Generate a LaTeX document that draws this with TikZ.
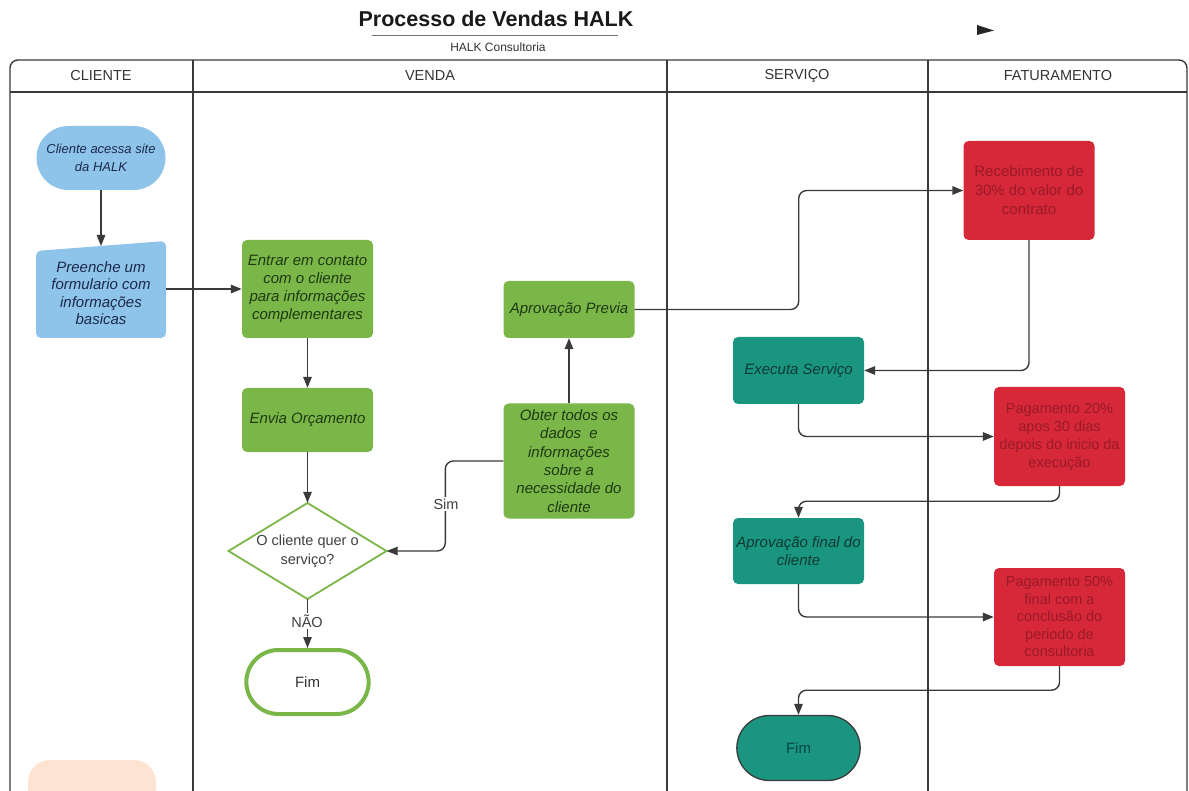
\documentclass[tikz,border=0pt]{standalone}
\usepackage{fontspec}
\setmainfont{Liberation Sans}
\usetikzlibrary{arrows.meta,shapes.geometric,shapes.misc}
\definecolor{blueF}{HTML}{8EC3EA}
\definecolor{blueT}{HTML}{1C2A4A}
\definecolor{greenF}{HTML}{7AB648}
\definecolor{greenT}{HTML}{1E3A12}
\definecolor{tealF}{HTML}{1A957F}
\definecolor{tealT}{HTML}{0E3A33}
\definecolor{redF}{HTML}{D62839}
\definecolor{redT}{HTML}{9A1A28}
\definecolor{peach}{HTML}{FDE4D2}
\definecolor{lineC}{HTML}{3A3A3A}
\begin{document}
\begin{tikzpicture}[x=1pt,y=-1pt,
  lane/.style={draw=lineC, line width=1.4pt},
  hdr/.style={font=\fontsize{14.5}{17}\selectfont, text=black!80},
  box/.style={rectangle, rounded corners=5pt, minimum width=131pt, align=center, inner sep=1pt, font=\fontsize{15}{18}\selectfont\itshape},
  gbox/.style={box, fill=greenF, text=greenT},
  tbox/.style={box, fill=tealF, text=tealT},
  rbox/.style={box, fill=redF, text=redT, font=\fontsize{15}{19}\selectfont},
  conn/.style={draw=lineC, line width=1.4pt, rounded corners=8pt, -{Triangle[length=11pt,width=8.5pt]}},
  lbl/.style={fill=white, inner sep=1.5pt, font=\fontsize{14.5}{17}\selectfont, text=black!75}
]
\useasboundingbox (0,0) rectangle (1189,791);
\begin{scope}
\clip (0,0) rectangle (1189,791);
% title
\node[font=\fontsize{21.5}{25}\selectfont\bfseries, text=black!90] (title) at (496,19) {Processo de Vendas HALK};
\draw[black!55, line width=0.8pt] (372,35.5) -- (618,35.5);
\node[font=\fontsize{12}{14}\selectfont, text=black!80] (sub) at (498,47) {HALK Consultoria};
\fill[black!85] (977,25) -- (994,30.5) -- (977,35) -- cycle;
% pool
\draw[lane, rounded corners=8pt] (10,800) -- (10,60) -- (1187,60) -- (1187,800);
\draw[lane] (10,92) -- (1187,92);
\draw[lane] (193,60) -- (193,800);
\draw[lane] (667,60) -- (667,800);
\draw[lane] (928,60) -- (928,800);
\node[hdr] (h1) at (101,76) {CLIENTE};
\node[hdr] (h2) at (430,76) {VENDA};
\node[hdr] (h3) at (797,76) {SERVIÇO};
\node[hdr] (h4) at (1058,76) {FATURAMENTO};
% peach shape
\fill[peach, rounded corners=22pt] (28,760) rectangle (156,830);
% cliente lane
\node[rounded rectangle, fill=blueF, text=blueT, minimum width=131pt, minimum height=64pt, align=center, inner sep=1pt, font=\fontsize{13}{18}\selectfont\itshape] (c1) at (101,158) {Cliente acessa site\\da HALK};
\fill[blueF, rounded corners=5pt] (36,251) -- (166,241) -- (166,338) -- (36,338) -- cycle;
\node[rectangle, minimum width=130pt, minimum height=97pt, align=center, inner sep=0pt, text=blueT, font=\fontsize{15}{17.5}\selectfont\itshape] (form) at (101,293) {Preenche um\\formulario com\\informações\\basicas};
\coordinate (formtop) at (101,246);
% venda lane
\node[gbox, minimum height=98pt] (e1) at (307.5,289) {Entrar em contato\\com o cliente\\para informações\\complementares};
\node[gbox, minimum height=64pt] (e2) at (307.5,420) {Envia Orçamento};
\draw[greenF, line width=1.8pt, fill=white] (228.5,551) -- (307.5,503) -- (386.5,551) -- (307.5,599) -- cycle;
\node[rectangle, minimum width=158pt, minimum height=96pt, inner sep=0pt, align=center, text=black!75, font=\fontsize{14.5}{19}\selectfont] (dec) at (307.5,551) {O cliente quer o\\serviço?};
\node[rounded rectangle, draw=greenF, line width=4pt, fill=white, minimum width=129pt, minimum height=64pt, text=black!80, font=\fontsize{15}{17}\selectfont] (fimg) at (307.5,682) {Fim};
\node[gbox, minimum height=115pt, font=\fontsize{15}{18.4}\selectfont\itshape] (ob) at (569,461) {Obter todos os\\dados~ e\\informações\\sobre a\\necessidade do\\cliente};
\node[gbox, minimum height=57pt] (ap) at (569,309.5) {Aprovação Previa};
% servico lane
\node[tbox, minimum height=67pt] (ex) at (798.5,370.5) {Executa Serviço};
\node[tbox, minimum height=66pt] (af) at (798.5,551) {Aprovação final do\\cliente};
\node[rounded rectangle, draw=lineC, line width=1.3pt, fill=tealF, minimum width=130pt, minimum height=65pt, text=teal!55!black, font=\fontsize{15}{17}\selectfont] (fimt) at (798.5,748) {Fim};
% faturamento lane
\node[rbox, minimum height=99pt] (r1) at (1029,190.5) {Recebimento de\\30\% do valor do\\contrato};
\node[rbox, minimum height=99pt, font=\fontsize{14.5}{18}\selectfont] (r2) at (1059.5,436.5) {Pagamento 20\%\\apos 30 dias\\depois do inicio da\\execução};
\node[rbox, minimum height=98pt, font=\fontsize{14.5}{17.5}\selectfont] (r3) at (1059.5,617) {Pagamento 50\%\\final com a\\conclusão do\\periodo de\\consultoria};
% connectors
\draw[conn] (c1.south) -- (formtop);
\draw[conn] (form.east |- e1.west) -- (e1.west);
\draw[conn] (e1.south) -- (e2.north);
\draw[conn] (e2.south) -- (dec.north);
\draw[conn] (ob.west) -- ++(-58,0) |- (dec.east);
\node[lbl] (sim) at (446,504) {Sim};
\draw[conn] (dec.south) -- (fimg.north);
\node[lbl] (nao) at (307,621) {NÃO};
\draw[conn] (ob.north) -- (ap.south);
\draw[conn] (ap.east) -- ++(164,0) |- (r1.west);
\draw[conn] (r1.south) |- (ex.east);
\draw[conn] (ex.south) |- (r2.west);
\draw[conn] (r2.south) -- ++(0,15) -| (af.north);
\draw[conn] (af.south) |- (r3.west);
\draw[conn] (r3.south) -- ++(0,24) -| (fimt.north);
\end{scope}
\end{tikzpicture}
\end{document}
